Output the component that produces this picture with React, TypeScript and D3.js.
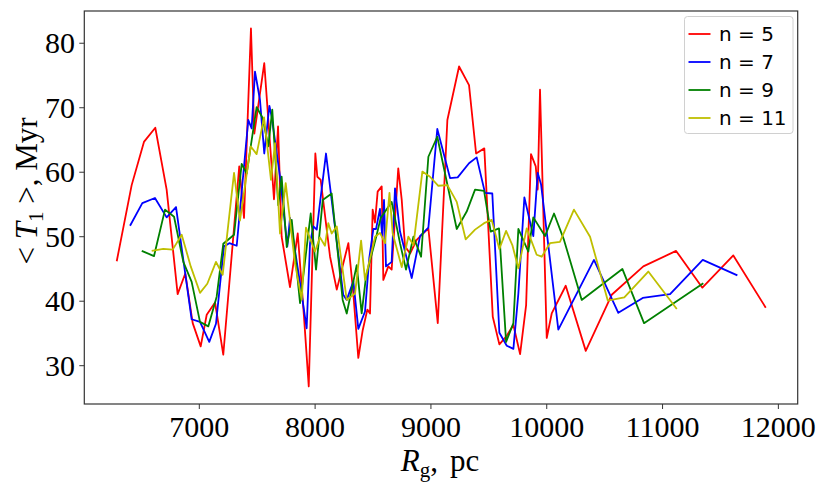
import * as d3 from 'd3';

// R_g (pc) and <T_1> (Myr) for each n
const redX = [6287, 6416, 6522, 6620, 6718, 6813, 6879, 6943, 7012, 7064, 7136, 7207, 7345, 7386, 7446, 7475, 7561, 7645, 7680, 7711, 7783, 7850, 7904, 7945, 8002, 8019, 8048, 8129, 8187, 8287, 8330, 8373, 8411, 8451, 8474, 8497, 8517, 8540, 8575, 8589, 8632, 8661, 8718, 8748, 8776, 8820, 8877, 8978, 9059, 9142, 9243, 9329, 9390, 9461, 9534, 9591, 9649, 9712, 9770, 9822, 9864, 9905, 9922, 9942, 10000, 10043, 10164, 10337, 10561, 10834, 11117, 11344, 11611, 11891];
const redY = [46.2, 58.0, 64.7, 66.9, 57.3, 41.1, 44.3, 36.6, 33.0, 37.9, 39.8, 31.7, 60.9, 52.9, 82.3, 66.0, 76.9, 55.8, 67.1, 50.0, 42.2, 50.5, 37.6, 26.8, 62.9, 59.3, 58.8, 46.9, 41.8, 49.0, 41.2, 31.2, 35.5, 38.7, 38.1, 54.2, 52.2, 57.0, 57.8, 43.3, 45.4, 44.9, 60.6, 55.7, 48.5, 47.4, 49.5, 51.3, 36.6, 68.1, 76.4, 73.5, 62.9, 63.7, 37.6, 33.3, 34.5, 36.3, 31.8, 39.4, 62.8, 60.9, 57.3, 72.8, 34.3, 38.1, 42.4, 32.3, 41.0, 45.4, 47.8, 42.1, 47.1, 39.0];

const blueX = [6402, 6508, 6617, 6718, 6799, 6862, 6934, 7006, 7086, 7144, 7213, 7259, 7323, 7423, 7452, 7481, 7524, 7561, 7605, 7625, 7697, 7760, 7783, 7870, 7927, 7956, 7985, 8014, 8094, 8243, 8273, 8330, 8373, 8431, 8468, 8503, 8526, 8560, 8580, 8595, 8612, 8661, 8690, 8733, 8834, 8906, 8978, 9055, 9165, 9231, 9329, 9395, 9467, 9530, 9591, 9655, 9712, 9755, 9807, 9884, 9922, 9951, 10100, 10408, 10618, 10829, 11065, 11347, 11646];
const blueY = [51.7, 55.2, 56.0, 53.0, 54.6, 46.4, 37.2, 36.8, 33.7, 36.5, 48.5, 49.0, 48.6, 68.1, 66.8, 75.6, 71.2, 62.9, 70.3, 68.6, 59.3, 48.5, 52.9, 42.8, 35.8, 49.0, 51.6, 51.1, 62.9, 41.0, 40.2, 43.1, 35.7, 38.4, 46.7, 51.2, 51.2, 54.3, 50.0, 55.7, 45.4, 46.1, 57.5, 50.8, 43.6, 50.1, 51.4, 66.7, 59.1, 59.2, 61.4, 62.3, 56.8, 56.7, 35.1, 33.1, 32.6, 41.2, 56.1, 50.1, 59.9, 58.1, 35.6, 46.4, 38.2, 40.5, 41.1, 46.4, 44.0];

const greenX = [6503, 6609, 6704, 6782, 6862, 6934, 7006, 7078, 7150, 7207, 7300, 7366, 7409, 7495, 7547, 7596, 7630, 7682, 7711, 7755, 7798, 7870, 7962, 8008, 8066, 8143, 8238, 8273, 8359, 8402, 8440, 8532, 8566, 8661, 8733, 8785, 8849, 8915, 8978, 9055, 9223, 9309, 9381, 9459, 9516, 9588, 9649, 9712, 9755, 9841, 9884, 9985, 10063, 10149, 10302, 10653, 10840, 11352];
const greenY = [47.8, 47.0, 54.2, 53.1, 46.1, 43.0, 36.8, 36.1, 40.7, 48.9, 50.3, 61.3, 59.8, 70.1, 68.4, 64.0, 69.7, 54.9, 59.3, 48.4, 52.6, 39.7, 53.6, 44.9, 55.7, 56.7, 40.2, 38.1, 45.6, 38.1, 43.9, 50.3, 52.9, 55.4, 49.0, 44.9, 50.0, 46.9, 62.4, 65.5, 51.2, 53.9, 57.3, 57.1, 50.8, 51.3, 33.7, 36.6, 51.2, 47.7, 53.0, 50.1, 53.6, 49.5, 40.2, 45.0, 36.6, 42.8];

const yellowX = [6589, 6689, 6770, 6848, 6926, 7006, 7069, 7144, 7202, 7300, 7351, 7444, 7495, 7559, 7619, 7654, 7697, 7746, 7826, 7884, 7921, 7999, 8042, 8085, 8114, 8143, 8187, 8273, 8345, 8397, 8431, 8518, 8560, 8604, 8642, 8670, 8748, 8805, 8849, 8926, 8992, 9064, 9142, 9223, 9300, 9381, 9459, 9525, 9591, 9649, 9703, 9755, 9827, 9913, 9957, 10028, 10114, 10235, 10374, 10527, 10670, 10877, 11123];
const yellowY = [47.8, 48.1, 48.0, 50.3, 45.4, 41.3, 42.7, 46.1, 44.1, 59.9, 52.5, 64.0, 62.8, 68.5, 58.8, 64.5, 50.5, 58.3, 45.9, 40.2, 51.4, 47.7, 49.9, 48.6, 52.1, 50.5, 51.6, 40.2, 41.2, 49.4, 43.3, 50.0, 50.6, 49.0, 56.8, 50.5, 45.3, 50.0, 48.7, 60.1, 59.3, 57.9, 58.0, 55.4, 49.6, 51.1, 52.1, 52.6, 48.1, 50.9, 48.7, 45.1, 51.3, 47.2, 46.9, 49.0, 49.2, 54.2, 50.0, 40.1, 40.6, 44.6, 38.8];

const seriesNames = ['n = 5', 'n = 7', 'n = 9', 'n = 11'];
const seriesColors = ['#ff0000', '#0000ff', '#008000', '#bfbf00'];
const xTicks = [7000, 8000, 9000, 10000, 11000, 12000];
const yTicks = [30, 40, 50, 60, 70, 80];

const W = 830;
const H = 491;
const left = 84.3;
const right = 797.7;
const top = 11;
const bottom = 404;

const serif = '"Liberation Serif", "DejaVu Serif", serif';

export default function App() {
  const x = d3.scaleLinear().domain([6007, 12167]).range([left, right]);
  const y = d3.scaleLinear().domain([24.06, 85.0]).range([bottom, top]);

  const series = [
    { xs: redX, ys: redY },
    { xs: blueX, ys: blueY },
    { xs: greenX, ys: greenY },
    { xs: yellowX, ys: yellowY },
  ];

  const line = d3.line<[number, number]>()
    .x(d => x(d[0]))
    .y(d => y(d[1]));

  const legendX = 684.5;
  const legendY = 16.5;

  return (
    <div style={{ position: 'absolute', left: 0, top: 0 }}>
      <svg width={W} height={H} style={{ display: 'block', background: '#fff' }}>
        <defs>
          <clipPath id="plot">
            <rect x={left} y={top} width={right - left} height={bottom - top} />
          </clipPath>
        </defs>

        <g clipPath="url(#plot)">
          {series.map((s, i) => (
            <path
              key={seriesNames[i]}
              d={line(s.xs.map((v, j) => [v, s.ys[j]] as [number, number])) || ''}
              fill="none"
              stroke={seriesColors[i]}
              strokeWidth={1.8}
              strokeLinejoin="round"
            />
          ))}
        </g>

        {/* frame */}
        <rect x={left} y={top} width={right - left} height={bottom - top}
          fill="none" stroke="#333" strokeWidth={1.2} />

        {/* x axis */}
        {xTicks.map(t => (
          <g key={t}>
            <line x1={x(t)} x2={x(t)} y1={bottom} y2={bottom + 5} stroke="#333" strokeWidth={1} />
            <text x={x(t)} y={436.5} textAnchor="middle" fontFamily={serif} fontSize={30} fill="#000">
              {t}
            </text>
          </g>
        ))}

        {/* y axis */}
        {yTicks.map(t => (
          <g key={t}>
            <line x1={left - 5} x2={left} y1={y(t)} y2={y(t)} stroke="#333" strokeWidth={1} />
            <text x={75} y={y(t)} dy="0.34em" textAnchor="end" fontFamily={serif} fontSize={30} fill="#000">
              {t}
            </text>
          </g>
        ))}

        {/* axis labels */}
        <text x={440} y={471} textAnchor="middle" fontFamily={serif} fontSize={31} fill="#000">
          <tspan fontStyle="italic">R</tspan>
          <tspan fontSize={21} dy={6}>g</tspan>
          <tspan dy={-6}>,</tspan>
          <tspan dx={12}>pc</tspan>
        </text>

        <text transform="translate(37,191) rotate(-90)" textAnchor="middle" fontFamily={serif} fontSize={31} fill="#000">
          <tspan>&lt; </tspan>
          <tspan fontStyle="italic">T</tspan>
          <tspan fontSize={21} dy={6}>1</tspan>
          <tspan dy={-6}> &gt;, Myr</tspan>
        </text>

        {/* legend */}
        <rect x={legendX} y={legendY} width={108.5} height={117} rx={3}
          fill="#fff" fillOpacity={0.8} stroke="#d0d0d0" strokeWidth={1} />
        {seriesNames.map((name, i) => {
          const cy = 34 + i * 28;
          return (
            <g key={name}>
              <line x1={688.5} x2={710.5} y1={cy} y2={cy} stroke={seriesColors[i]} strokeWidth={1.8} />
              <text x={719} y={cy} dy="0.36em" fontFamily='"DejaVu Sans", sans-serif' fontSize={20} fill="#000">
                {name}
              </text>
            </g>
          );
        })}
      </svg>
    </div>
  );
}
